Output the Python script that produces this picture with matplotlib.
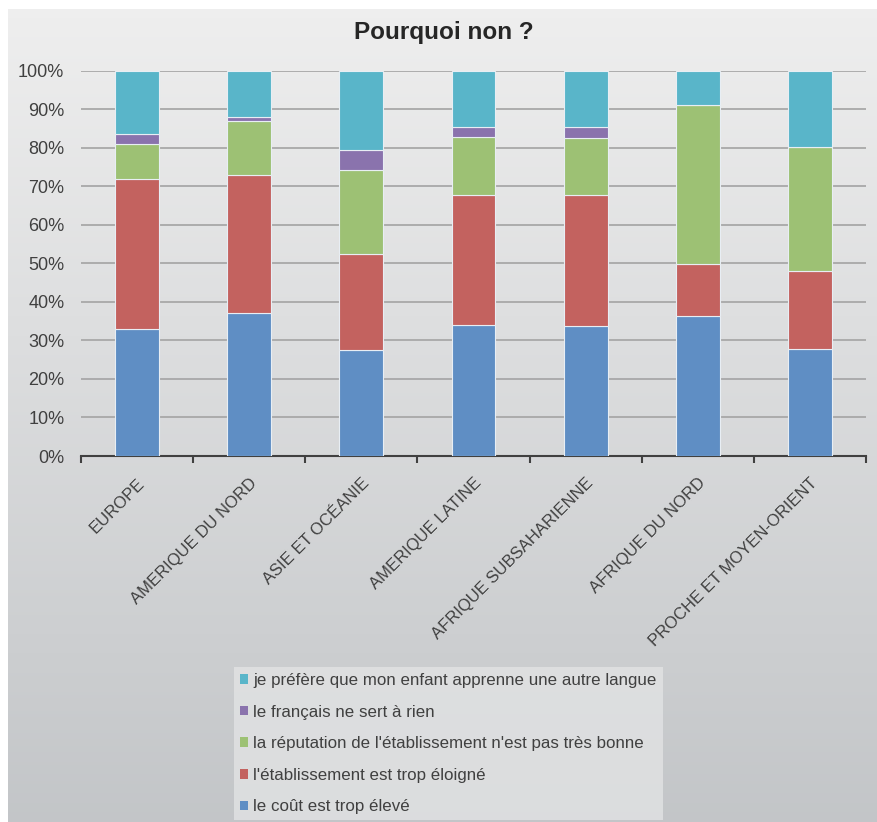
import matplotlib
matplotlib.use("Agg")
import matplotlib.pyplot as plt
import numpy as np
from matplotlib.patches import Patch

plt.rcParams["font.family"] = ["Liberation Sans", "DejaVu Sans"]

regions = ["EUROPE", "AMERIQUE DU NORD", "ASIE ET OCÉANIE", "AMERIQUE LATINE",
           "AFRIQUE SUBSAHARIENNE", "AFRIQUE DU NORD", "PROCHE ET MOYEN-ORIENT"]

# percentages
cout = [32.9, 37.0, 27.6, 34.0, 33.7, 36.3, 27.7]
eloigne = [39.0, 35.9, 24.7, 33.7, 34.0, 13.5, 20.2]
reputation = [9.0, 14.0, 21.9, 15.1, 14.8, 41.2, 32.3]
sert_rien = [2.7, 1.1, 5.3, 2.5, 2.8, 0.0, 0.0]
autre_langue = [16.4, 12.0, 20.5, 14.7, 14.7, 9.0, 19.8]

labels = ["le coût est trop élevé",
          "l'établissement est trop éloigné",
          "la réputation de l'établissement n'est pas très bonne",
          "le français ne sert à rien",
          "je préfère que mon enfant apprenne une autre langue"]
colors = ["#5f8ec4", "#c3625f", "#9dc174", "#8a73ad", "#59b5c9"]

fig = plt.figure(figsize=(8.77, 8.22), dpi=100)
fig.patch.set_facecolor("white")

# background gradient of the chart area
bg = fig.add_axes([8 / 877, 0, 1 - 8 / 877, 1 - 9 / 822])
grad = np.linspace(0, 1, 256).reshape(-1, 1)
top = np.array([0.935, 0.935, 0.935])
bot = np.array([0.765, 0.775, 0.785])
img = top + (bot - top) * grad[:, :, None]
bg.imshow(img, aspect="auto", extent=[0, 1, 0, 1])
bg.set_axis_off()

ax = fig.add_axes([81 / 877, 1 - 456 / 822, (866 - 81) / 877, (456 - 70.7) / 822])
ax.patch.set_alpha(0)

x = np.arange(len(regions))
bottom = np.zeros(len(regions))
series = [cout, eloigne, reputation, sert_rien, autre_langue]
handles = []
for vals, lab, col in zip(series, labels, colors):
    vals = np.array(vals)
    ax.bar(x, vals, 0.39, bottom=bottom, color=col, edgecolor="#e8eef4",
           linewidth=0.8, zorder=3)
    bottom += vals
    handles.append(Patch(facecolor=col, label=lab))

ax.set_xlim(-0.5, len(regions) - 0.5)
ax.set_ylim(0, 100)
ax.set_yticks(np.arange(0, 101, 10))
ax.set_yticklabels([f"{v}%" for v in range(0, 101, 10)], fontsize=13, color="#404040")
ax.yaxis.grid(True, color="#a8a8a8", linewidth=1.3, zorder=0)
ax.tick_params(axis="y", length=0, pad=12)

ax.set_xticks(x)
ax.set_xticklabels(regions, rotation=45, ha="right", va="top",
                   rotation_mode="anchor", fontsize=12, color="#404040")
ax.set_xticks(np.arange(-0.5, len(regions)), minor=True)
ax.tick_params(axis="x", which="major", length=0, pad=14)
ax.tick_params(axis="x", which="minor", length=5, width=1.5, color="#404040")

for s in ["top", "right", "left"]:
    ax.spines[s].set_visible(False)
ax.spines["bottom"].set_color("#404040")
ax.spines["bottom"].set_linewidth(1.5)

fig.text(444 / 877, 1 - 33 / 822, "Pourquoi non ?", ha="center", va="center",
         fontsize=17.5, fontweight="bold", color="#262626")

leg = fig.legend(handles=handles[::-1], loc="upper left",
                 bbox_to_anchor=(234 / 877, 1 - 667 / 822),
                 fontsize=12.2, frameon=True, handlelength=0.5, handleheight=0.5,
                 handletextpad=0.3, labelspacing=0.98, borderpad=0.35,
                 borderaxespad=0, labelcolor="#404040")
leg.get_frame().set_facecolor("#e2e3e4")
leg.get_frame().set_edgecolor("none")
leg.get_frame().set_boxstyle("square", pad=0)

fig.savefig("out.png", dpi=100)
